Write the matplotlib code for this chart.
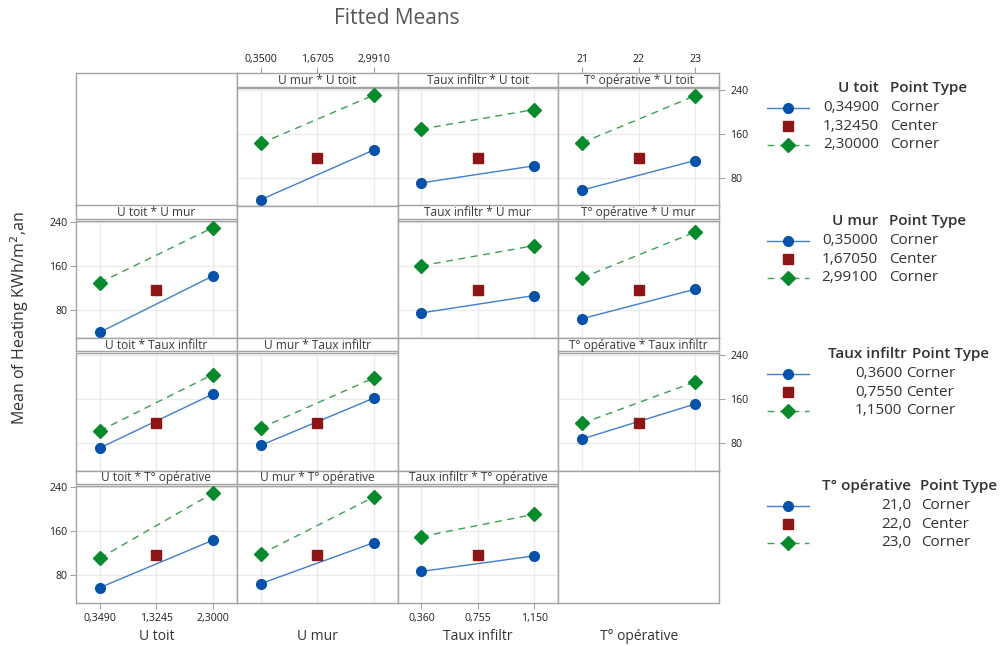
import matplotlib
matplotlib.use("Agg")
import matplotlib.pyplot as plt
from matplotlib.lines import Line2D

plt.rcParams['font.family'] = ['Open Sans', 'DejaVu Sans']

# ---------------- data ----------------
factors = ["U toit", "U mur", "Taux infiltr", "T° opérative"]

u_toit_levels = [0.349, 1.3245, 2.3]
u_mur_levels = [0.35, 1.6705, 2.991]
taux_levels = [0.36, 0.755, 1.15]
t_op_levels = [21, 22, 23]

u_toit_ticks = ["0,3490", "1,3245", "2,3000"]
u_mur_ticks = ["0,3500", "1,6705", "2,9910"]
taux_ticks = ["0,360", "0,755", "1,150"]
t_op_ticks = ["21", "22", "23"]

u_toit_legend = ["0,34900", "1,32450", "2,30000"]
u_mur_legend = ["0,35000", "1,67050", "2,99100"]
taux_legend = ["0,3600", "0,7550", "1,1500"]
t_op_legend = ["21,0", "22,0", "23,0"]
point_types = ["Corner", "Center", "Corner"]

# fitted means of factor pairs: [level of first factor][level of second factor]
toit_mur = [[40.5, 130.5], [142.5, 230.0]]
toit_taux = [[71.0, 102.0], [168.5, 204.0]]
toit_top = [[58.0, 111.5], [143.8, 229.0]]
mur_taux = [[75.5, 107.0], [161.0, 197.5]]
mur_top = [[65.0, 118.5], [139.2, 222.0]]
taux_top = [[87.2, 150.5], [115.5, 190.8]]
center_mean = 117.0

y_ticks = [80, 160, 240]

levels = [u_toit_levels, u_mur_levels, taux_levels, t_op_levels]
tick_labels = [u_toit_ticks, u_mur_ticks, taux_ticks, t_op_ticks]
legend_labels = [u_toit_legend, u_mur_legend, taux_legend, t_op_legend]
pair_tables = {(0, 1): toit_mur, (0, 2): toit_taux, (0, 3): toit_top,
               (1, 2): mur_taux, (1, 3): mur_top, (2, 3): taux_top}


def mean_of(i, a, j, b):
    if i < j:
        return pair_tables[(i, j)][a][b]
    return pair_tables[(j, i)][b][a]


# ---------------- style ----------------
W, H = 1005, 646
BLUE = "#0652a8"
BLUE_LINE = "#3f7fce"
RED = "#8e1515"
GREEN = "#078a2c"
GREEN_LINE = "#3a9e55"
FRAME = "#a3a3a3"
GRID = "#ebebeb"
TXT = "#333333"
TICKSIZE = 7.6

fig = plt.figure(figsize=(W / 100, H / 100), dpi=100)


def rect(x0, y0, x1, y1):
    return [x0 / W, 1 - y1 / H, (x1 - x0) / W, (y1 - y0) / H]


cols_x = [76, 236.75, 397.5, 558.25, 719]
rows_y = [73, 205.5, 338, 470.5, 603]
strip_h = 13.5

for r in range(4):
    for c in range(4):
        x0, x1 = cols_x[c], cols_x[c + 1]
        y0, y1 = rows_y[r], rows_y[r + 1]
        if r == c:
            ax = fig.add_axes(rect(x0, y0, x1, y1))
            ax.set_xticks([])
            ax.set_yticks([])
            for s in ax.spines.values():
                s.set_color(FRAME)
                s.set_linewidth(1.0)
            continue
        lv = levels[c]
        span = lv[2] - lv[0]
        xlim = (lv[0] - 0.212 * span, lv[2] + 0.212 * span)
        # strip
        sax = fig.add_axes(rect(x0, y0, x1, y0 + strip_h))
        sax.set_xlim(*xlim)
        sax.set_yticks([])
        for s in sax.spines.values():
            s.set_color(FRAME)
            s.set_linewidth(1.0)
        sax.text(0.5, 0.45, f"{factors[c]} * {factors[r]}", ha="center", va="center",
                 fontsize=8.6, color="#3a3a3a", transform=sax.transAxes)
        if r == 0 and c in (1, 3):
            sax.xaxis.tick_top()
            sax.set_xticks(lv)
            sax.set_xticklabels(tick_labels[c])
            sax.tick_params(axis="x", colors=FRAME, labelcolor="#1e1e1e", labelsize=TICKSIZE,
                            length=4, width=0.8, pad=1.5)
        else:
            sax.set_xticks([])
        # plot
        ax = fig.add_axes(rect(x0, y0 + strip_h + 1.5, x1, y1))
        ax.set_xlim(*xlim)
        ax.set_ylim(30, 243)
        ax.set_xticks(lv)
        ax.set_yticks(y_ticks)
        ax.grid(True, color=GRID, linewidth=1.0)
        ax.set_axisbelow(True)
        for s in ax.spines.values():
            s.set_color(FRAME)
            s.set_linewidth(1.0)
        xs = [lv[0], lv[2]]
        low = [mean_of(r, 0, c, 0), mean_of(r, 0, c, 1)]
        high = [mean_of(r, 1, c, 0), mean_of(r, 1, c, 1)]
        ax.plot(xs, low, color=BLUE_LINE, lw=1.0, zorder=2)
        ax.plot(xs, low, 'o', color=BLUE, ms=7, mec=BLUE, zorder=3)
        ax.plot(xs, high, color=GREEN_LINE, lw=1.0, ls=(0, (5, 4)), zorder=2)
        ax.plot(xs, high, 'D', color=GREEN, ms=7.2, mec=GREEN, zorder=3)
        ax.plot([lv[1]], [center_mean], 's', color=RED, ms=7.5, mec=RED, zorder=3)

        ax.tick_params(colors=FRAME, labelcolor="#1e1e1e", labelsize=TICKSIZE, length=4, width=0.8)
        # y tick labels
        if c == 0 and r in (1, 3):
            ax.tick_params(left=True, labelleft=True, pad=2)
        elif c == 3 and r in (0, 2):
            ax.yaxis.tick_right()
            ax.tick_params(axis="y", right=True, labelright=True, left=False, pad=4)
        else:
            ax.tick_params(axis="y", left=False, labelleft=False)
        # x tick labels
        if r == 3 and c in (0, 2):
            ax.tick_params(axis="x", bottom=True, labelbottom=True, pad=3)
            ax.set_xticklabels(tick_labels[c])
        else:
            ax.tick_params(axis="x", bottom=False, labelbottom=False)

# axis labels
for c in range(4):
    fig.text((cols_x[c] + cols_x[c + 1]) / 2 / W, 1 - 636 / H, factors[c],
             ha="center", va="center", fontsize=10, color=TXT)
fig.text(20 / W, 1 - 318 / H, "Mean of Heating KWh/m$^2$,an", rotation=90,
         ha="center", va="center", fontsize=11.5, color=TXT)

# title
fig.text(397 / W, 1 - 19 / H, "Fitted Means", ha="center", va="center",
         fontsize=15, color="#555555")

# legends
legend_pos = [
    (88, 879, 890, 879, 890),
    (221, 878, 889, 878, 889),
    (354, 907, 912, 902, 906),
    (486, 911, 920, 911, 921),
]
for k in range(4):
    hy, hx1, hx2, vx1, vx2 = legend_pos[k]
    fig.text(hx1 / W, 1 - hy / H, factors[k], ha="right", va="center",
             fontsize=11, color=TXT, fontweight="semibold")
    fig.text(hx2 / W, 1 - hy / H, "Point Type", ha="left", va="center",
             fontsize=11, color=TXT, fontweight="semibold")
    for e in range(3):
        ey = hy + 19.5 + 18.7 * e
        yy = 1 - ey / H
        fig.text(vx1 / W, yy, legend_labels[k][e], ha="right", va="center",
                 fontsize=11, color=TXT)
        fig.text(vx2 / W, yy, point_types[e], ha="left", va="center",
                 fontsize=11, color=TXT)
        if e == 0:
            fig.add_artist(Line2D([767 / W, 809 / W], [yy, yy], color=BLUE_LINE, lw=1.0,
                                  transform=fig.transFigure))
            fig.add_artist(Line2D([788 / W], [yy], marker='o', ms=7, color=BLUE,
                                  transform=fig.transFigure))
        elif e == 1:
            fig.add_artist(Line2D([788 / W], [yy], marker='s', ms=7.5, color=RED,
                                  transform=fig.transFigure))
        else:
            fig.add_artist(Line2D([767 / W, 809 / W], [yy, yy], color=GREEN_LINE, lw=1.0,
                                  ls=(0, (5, 4)), transform=fig.transFigure))
            fig.add_artist(Line2D([788 / W], [yy], marker='D', ms=7.2, color=GREEN,
                                  transform=fig.transFigure))

fig.savefig("out.png", dpi=100)
